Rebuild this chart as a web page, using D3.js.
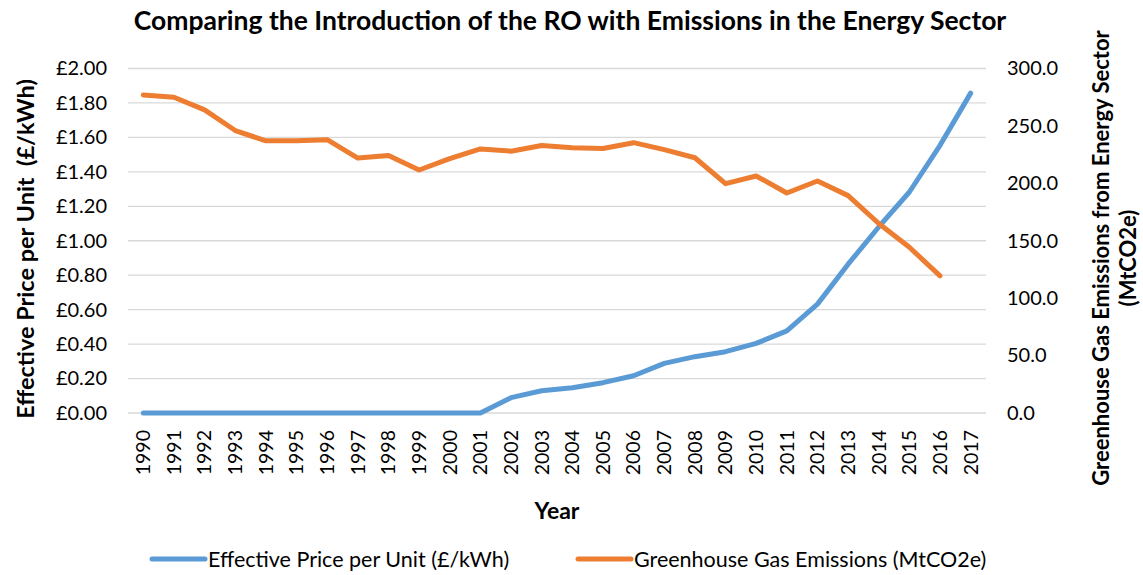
<!DOCTYPE html>
<html>
<head>
<meta charset="utf-8">
<script src="https://cdn.jsdelivr.net/npm/d3@7"></script>
<style>
  body { margin: 0; background: #fff; }
  text { font-family: Lato, "Open Sans", sans-serif; fill: #000; }
</style>
</head>
<body>
<svg id="chart" width="1143" height="575"></svg>
<script>
// chart data
const years = ["1990","1991","1992","1993","1994","1995","1996","1997","1998","1999","2000","2001","2002","2003","2004","2005","2006","2007","2008","2009","2010","2011","2012","2013","2014","2015","2016","2017"];
// effective price per unit (£/kWh)
const price = [0,0,0,0,0,0,0,0,0,0,0,0,0.089,0.129,0.147,0.176,0.216,0.288,0.327,0.356,0.404,0.477,0.632,0.864,1.08,1.283,1.554,1.857];
// greenhouse gas emissions (MtCO2e), no value for 2017
const emissions = [277,275,264,246,237,237,238,222,224.3,211.6,221.5,230,228,233,231,230.4,235.4,229.3,222.3,199.7,206.4,191.6,202,189.3,165,144.3,119.4,null];
const leftTicks = [0,0.2,0.4,0.6,0.8,1.0,1.2,1.4,1.6,1.8,2.0];
const rightTicks = [0,50,100,150,200,250,300];

const svg = d3.select("#chart");
const plotL = 128, plotR = 986, plotT = 68.5, plotB = 413;

const x = d3.scaleBand().domain(years).range([plotL, plotR]);
const yL = d3.scaleLinear().domain([0, 2]).range([plotB, plotT]);
const yR = d3.scaleLinear().domain([0, 300]).range([plotB, plotT]);
const cx = d => x(d) + x.bandwidth() / 2;

// gridlines
svg.append("g").selectAll("line").data(leftTicks).enter().append("line")
  .attr("x1", plotL).attr("x2", plotR)
  .attr("y1", d => yL(d)).attr("y2", d => yL(d))
  .attr("stroke", "#d9d9d9").attr("stroke-width", 1.3);

// left axis
const axL = svg.append("g").attr("transform", `translate(${plotL - 21},0)`)
  .call(d3.axisLeft(yL).tickValues(leftTicks).tickSize(0).tickPadding(0).tickFormat(d => "£" + d3.format(".2f")(d)));
axL.select(".domain").remove();
axL.selectAll("text").attr("font-size", 20).attr("font-family", "Lato, sans-serif");

// right axis
const axR = svg.append("g").attr("transform", `translate(${plotR + 21},0)`)
  .call(d3.axisRight(yR).tickValues(rightTicks).tickSize(0).tickPadding(0).tickFormat(d3.format(".1f")));
axR.select(".domain").remove();
axR.selectAll("text").attr("font-size", 20).attr("font-family", "Lato, sans-serif");

// x axis - rotated year labels
const axX = svg.append("g").attr("transform", `translate(0,${plotB})`)
  .call(d3.axisBottom(x).tickSize(0).tickPadding(0));
axX.select(".domain").remove();
axX.selectAll("text")
  .attr("font-size", 19.5).attr("font-family", "Lato, sans-serif")
  .attr("transform", "rotate(-90)")
  .attr("text-anchor", "end")
  .attr("x", -17).attr("y", 0).attr("dy", "0.35em");

// lines
const lineP = d3.line().x((d, i) => cx(years[i])).y(d => yL(d));
const lineE = d3.line().defined(d => d != null).x((d, i) => cx(years[i])).y(d => yR(d));

svg.append("path").datum(price).attr("d", lineP)
  .attr("fill", "none").attr("stroke", "#5b9bd5").attr("stroke-width", 5)
  .attr("stroke-linecap", "round").attr("stroke-linejoin", "round");
svg.append("path").datum(emissions).attr("d", lineE)
  .attr("fill", "none").attr("stroke", "#ed7d31").attr("stroke-width", 5)
  .attr("stroke-linecap", "round").attr("stroke-linejoin", "round");

// titles
svg.append("text").attr("x", 570).attr("y", 30).attr("text-anchor", "middle")
  .attr("font-size", 26.5).attr("font-weight", "bold")
  .text("Comparing the Introduction of the RO with Emissions in the Energy Sector");

svg.append("text").attr("x", 557).attr("y", 519).attr("text-anchor", "middle")
  .attr("font-size", 23).attr("font-weight", "bold").text("Year");

svg.append("text").attr("transform", "translate(34,249) rotate(-90)")
  .attr("text-anchor", "middle").attr("font-size", 23.5).attr("font-weight", "bold")
  .attr("xml:space", "preserve")
  .text("Effective Price per Unit  (£/kWh)");

const rt = svg.append("text").attr("transform", "translate(1109,258) rotate(-90)")
  .attr("text-anchor", "middle").attr("font-size", 22).attr("font-weight", "bold");
rt.append("tspan").attr("x", 0).attr("dy", 0).text("Greenhouse Gas Emissions from Energy Sector");
rt.append("tspan").attr("x", 0).attr("dy", 27).text("(MtCO2e)");

// legend
const legend = [
  { label: "Effective Price per Unit (£/kWh)", color: "#5b9bd5", x: 152 },
  { label: "Greenhouse Gas Emissions (MtCO2e)", color: "#ed7d31", x: 578 }
];
const lg = svg.append("g").selectAll("g").data(legend).enter().append("g")
  .attr("transform", d => `translate(${d.x},559)`);
lg.append("line").attr("x1", 0).attr("x2", 53).attr("y1", 0).attr("y2", 0)
  .attr("stroke", d => d.color).attr("stroke-width", 5).attr("stroke-linecap", "round");
lg.append("text").attr("x", 56).attr("y", 0).attr("dy", "0.35em")
  .attr("font-size", 21.5).text(d => d.label);
</script>
</body>
</html>
